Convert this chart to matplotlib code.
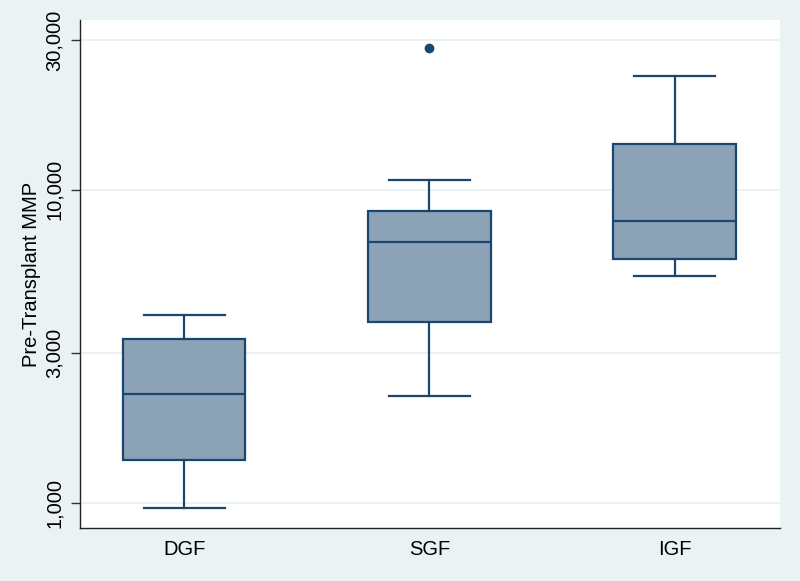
import matplotlib.pyplot as plt
from matplotlib.ticker import FixedLocator, NullLocator

# groups and box statistics (log scale)
groups = ['DGF', 'SGF', 'IGF']
whislo = [965, 2190, 5300]
q1 = [1370, 3780, 6000]
med = [2230, 6800, 7940]
q3 = [3330, 8530, 13960]
whishi = [3980, 10700, 23000]
outliers = [[], [28300], []]

y_ticks = [1000, 3000, 10000, 30000]
y_labels = ['1,000', '3,000', '10,000', '30,000']

bg = '#eaf2f3'
navy = '#1a476f'
fill = '#8ca3b7'

plt.rcParams['font.family'] = ['Liberation Sans', 'DejaVu Sans']

fig = plt.figure(figsize=(8, 5.81), dpi=100)
fig.patch.set_facecolor(bg)
ax = fig.add_axes([80 / 800, 1 - 528 / 581, 700 / 800, 508 / 581])
ax.set_facecolor('white')

stats = []
for i, g in enumerate(groups):
    stats.append(dict(label=g, whislo=whislo[i], q1=q1[i], med=med[i],
                      q3=q3[i], whishi=whishi[i], fliers=outliers[i]))

ax.bxp(stats, positions=[1, 2, 3], widths=0.5, patch_artist=True,
       boxprops=dict(facecolor=fill, edgecolor=navy, linewidth=1.6),
       medianprops=dict(color=navy, linewidth=1.6),
       whiskerprops=dict(color=navy, linewidth=1.6),
       capprops=dict(color=navy, linewidth=1.6),
       capwidths=0.33,
       flierprops=dict(marker='o', markerfacecolor=navy, markeredgecolor=navy,
                       markersize=6))

ax.set_yscale('log')
ax.set_ylim(832, 34750)
ax.set_xlim(0.575, 3.43)
ax.yaxis.set_major_locator(FixedLocator(y_ticks))
ax.yaxis.set_minor_locator(NullLocator())
ax.set_yticklabels(y_labels, rotation=90, va='center', fontsize=14.5)
ax.tick_params(axis='y', length=6.5, width=1, color='#333333', pad=5)
ax.tick_params(axis='x', length=0, labelsize=14.5, pad=8.5)
ax.grid(axis='y', color=bg, linewidth=1.4)
ax.set_axisbelow(True)

ax.set_ylabel('Pre-Transplant MMP', fontsize=14.5, labelpad=3)

for s in ['top', 'right']:
    ax.spines[s].set_visible(False)
for s in ['left', 'bottom']:
    ax.spines[s].set_color('#222222')
    ax.spines[s].set_linewidth(1)

fig.savefig('out.png', dpi=100, facecolor=bg)
